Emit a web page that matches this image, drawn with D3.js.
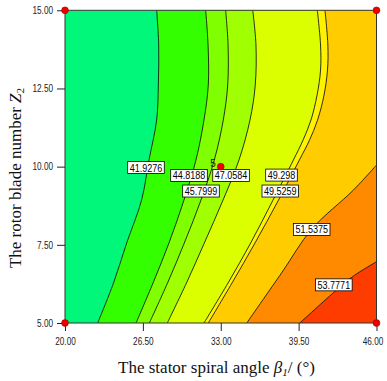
<!DOCTYPE html>
<html>
<head>
<meta charset="utf-8">
<script src="https://cdn.jsdelivr.net/npm/d3@7"></script>
<style>
  body { margin: 0; background: #fff; }
  .num { font-family: "Liberation Sans", Arial, sans-serif; }
  .title { font-family: "Liberation Serif", "Times New Roman", serif; font-size: 17px; fill: #111; }
</style>
</head>
<body>
<svg id="chart" width="387" height="381"></svg>
<script>
// axis ticks
const xTicks = [20, 26.5, 33, 39.5, 46];
const yTicks = [5, 7.5, 10, 12.5, 15];

// contour levels (lowest -> highest)
const levels = [41.9276, 44.8188, 45.7999, 47.0584, 49.298, 49.5259, 51.5375, 53.7771];

// each contour line as [beta1, Z2] points
const line41 = [[27.65,15],[27.82,13.89],[27.79,12.61],[27.65,11.49],[27.01,10.21],[26.39,8.93],[25.15,7.56],[24.05,6.28],[22.73,5]];
const line44 = [[31.74,15],[31.94,13.89],[31.96,12.61],[31.60,11.49],[30.93,10.21],[29.93,8.93],[28.68,7.56],[27.35,6.28],[25.93,5]];
const line45 = [[33.41,15],[33.61,13.89],[33.58,12.61],[33.21,11.49],[32.46,10.21],[31.35,8.93],[29.96,7.56],[28.56,6.28],[27.04,5]];
const line47 = [[35.67,15],[35.94,13.89],[35.88,12.61],[35.44,11.49],[34.52,10.21],[33.19,8.93],[31.63,7.56],[30.14,6.28],[28.54,5]];
const line49a = [[41.06,15],[41.33,13.89],[41.33,13.09],[41.04,12.29],[40.53,11.49],[39.87,10.85],[39.06,10.21],[37.36,8.93],[35.50,7.56],[33.61,6.28],[31.60,5]];
const line49b = [[41.70,15],[41.94,13.89],[41.91,13.09],[41.62,12.29],[41.08,11.49],[40.41,10.85],[39.56,10.21],[37.82,8.93],[35.86,7.56],[33.94,6.28],[31.96,5]];
const line51 = [[46,10.05],[44.07,9.25],[40.59,8.0],[38.13,6.63],[35.17,5]];
const line53 = [[46,6.96],[44.07,6.50],[42.68,6.06],[39.60,5]];
const contourLines = [line41, line44, line45, line47, line49a, line49b, line51, line53];

// where each level's label box sits
const labelAt = [[26.76,9.97],[30.35,9.72],[31.35,9.22],[33.86,9.72],[38.07,9.73],[37.97,9.22],[40.59,7.99],[42.44,6.22]];

// design points, centre point replicated 5 times
const designPts = [[20,5],[20,15],[46,5],[46,15],[33,10]];
const centreReps = 5;

const bandColors = ["#00f77a","#33ff00","#80ff00","#a0ff00","#dcff00","#fff200","#ffcc00","#ff8a00","#ff3c00"];

const svg = d3.select("#chart");
const x = d3.scaleLinear().domain([20, 46]).range([65, 376.5]);
const y = d3.scaleLinear().domain([5, 15]).range([323, 10.3]);

// squeeze numbers a little, the original uses a narrow face
function narrow(sel) {
  sel.each(function() {
    const w = this.getComputedTextLength();
    d3.select(this).attr("textLength", w * 0.82).attr("lengthAdjust", "spacingAndGlyphs");
  });
}

svg.append("clipPath").attr("id", "plotclip")
  .append("rect")
  .attr("x", x(20)).attr("y", y(15))
  .attr("width", x(46) - x(20)).attr("height", y(5) - y(15));

const plot = svg.append("g").attr("clip-path", "url(#plotclip)");

// lowest band fills the whole plot
plot.append("rect")
  .attr("x", x(20)).attr("y", y(15))
  .attr("width", x(46) - x(20)).attr("height", y(5) - y(15))
  .attr("fill", bandColors[0]);

const line = d3.line()
  .x(d => x(d[0]))
  .y(d => y(d[1]))
  .curve(d3.curveCatmullRom);

// each higher band is the area on the right/lower-right of its contour line
contourLines.forEach((pts, i) => {
  const startsTop = pts[0][1] === 15;
  let d = line(pts) + `L${x(46)},${y(5)}`;
  if (startsTop) d += `L${x(46)},${y(15)}`;
  d += "Z";
  plot.append("path").attr("d", d).attr("fill", bandColors[i + 1]);
});

contourLines.forEach(pts => {
  plot.append("path")
    .attr("d", line(pts))
    .attr("fill", "none")
    .attr("stroke", "#1a1a1a")
    .attr("stroke-width", 0.9);
});

// frame
svg.append("rect")
  .attr("x", x(20)).attr("y", y(15))
  .attr("width", x(46) - x(20)).attr("height", y(5) - y(15))
  .attr("fill", "none")
  .attr("stroke", "#333")
  .attr("stroke-width", 1);

// contour labels
levels.forEach((lv, i) => {
  const g = svg.append("g")
    .attr("transform", `translate(${x(labelAt[i][0])},${y(labelAt[i][1])})`);
  const t = g.append("text")
    .attr("class", "num")
    .attr("text-anchor", "middle")
    .attr("dy", "0.36em")
    .style("font-size", "11px")
    .attr("fill", "#000")
    .text(lv);
  narrow(t);
  const w = +t.attr("textLength");
  g.insert("rect", "text")
    .attr("x", -w / 2 - 2)
    .attr("y", -6)
    .attr("width", w + 4)
    .attr("height", 12)
    .attr("fill", "#fff")
    .attr("stroke", "#000")
    .attr("stroke-width", 0.8);
});

// axes
const fmt = d3.format(".2f");
const xAxis = svg.append("g")
  .attr("transform", `translate(0,${y(5)})`)
  .call(d3.axisBottom(x).tickValues(xTicks).tickFormat(fmt).tickSize(8).tickSizeOuter(0).tickPadding(7));
const yAxis = svg.append("g")
  .attr("transform", `translate(${x(20)},0)`)
  .call(d3.axisLeft(y).tickValues(yTicks).tickFormat(fmt).tickSize(8).tickSizeOuter(0).tickPadding(4));
[xAxis, yAxis].forEach(a => {
  a.select(".domain").remove();
  a.selectAll("line").attr("stroke", "#222");
  a.selectAll("text").attr("class", "num").style("font-size", "10px").attr("fill", "#222").call(narrow);
});
// last x label sits right on the edge, nudge it in
xAxis.selectAll(".tick text").filter(d => d === 46).attr("dx", -4);

// design points
svg.selectAll("circle.pt")
  .data(designPts)
  .enter().append("circle")
  .attr("class", "pt")
  .attr("cx", d => x(d[0]))
  .attr("cy", d => y(d[1]))
  .attr("r", 3.4)
  .attr("fill", "#ee0000")
  .attr("stroke", "#900")
  .attr("stroke-width", 0.6);

svg.append("text")
  .attr("class", "num")
  .attr("x", x(33) - 5)
  .attr("y", y(10))
  .attr("text-anchor", "end")
  .style("font-size", "10px")
  .attr("fill", "#222")
  .text(centreReps);

// axis titles
const xt = svg.append("text")
  .attr("class", "title")
  .attr("x", 216.5)
  .attr("y", 373)
  .attr("text-anchor", "middle");
xt.append("tspan").text("The stator spiral angle ");
xt.append("tspan").attr("font-style", "italic").text("β");
xt.append("tspan").attr("font-style", "italic").attr("font-size", "11px").attr("dy", 3).text("1");
xt.append("tspan").attr("dy", -3).text("/ (°)");

const yt = svg.append("text")
  .attr("class", "title")
  .attr("transform", "translate(21,178) rotate(-90)")
  .attr("text-anchor", "middle");
yt.append("tspan").text("The rotor blade number ");
yt.append("tspan").attr("font-style", "italic").text("Z");
yt.append("tspan").attr("font-size", "11px").attr("dy", 3).text("2");
</script>
</body>
</html>
